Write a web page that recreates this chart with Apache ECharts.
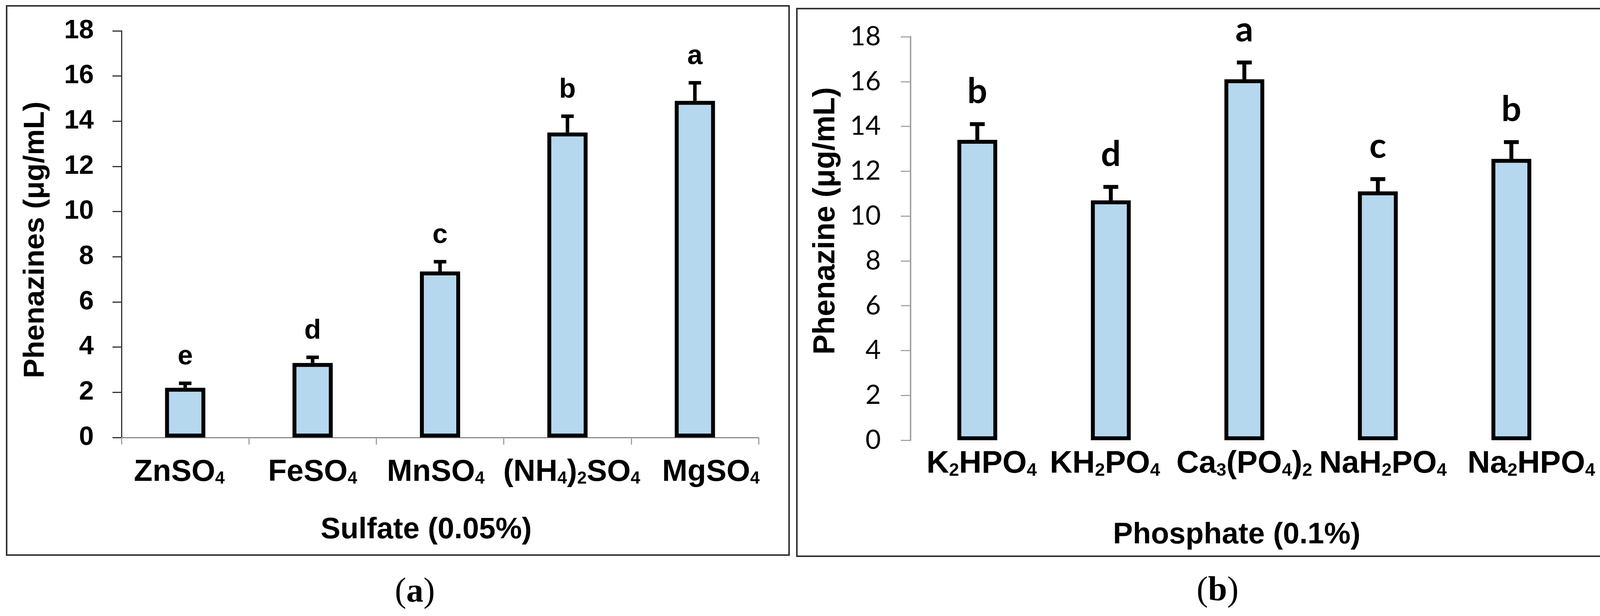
<!DOCTYPE html>
<html><head><meta charset="utf-8">
<script src="https://cdn.jsdelivr.net/npm/echarts@6/dist/echarts.min.js"></script>
<style>html,body{margin:0;padding:0;background:#fff}#c{width:4125px;height:1577px}</style>
</head><body><div id="c"></div>
<script>
// ---------- data ----------
const sulfateCategories = ['ZnSO₄', 'FeSO₄', 'MnSO₄', '(NH₄)₂SO₄', 'MgSO₄'];
const sulfateMeans = [2.2, 3.3, 7.35, 13.5, 14.9];
const sulfateErrors = [0.2, 0.25, 0.43, 0.72, 0.8];
const sulfateLetters = ['e', 'd', 'c', 'b', 'a'];

const phosphateCategories = ['K₂HPO₄', 'KH₂PO₄', 'Ca₃(PO₄)₂', 'NaH₂PO₄', 'Na₂HPO₄'];
const phosphateMeans = [13.4, 10.7, 16.1, 11.1, 12.55];
const phosphateErrors = [0.7, 0.6, 0.75, 0.55, 0.75];
const phosphateLetters = ['b', 'd', 'a', 'c', 'b'];

const yTickLabels = ['0', '2', '4', '6', '8', '10', '12', '14', '16', '18'];

const leftYName = 'Phenazines (μg/mL)';
const leftXName = 'Sulfate (0.05%)';
const rightYName = 'Phenazine (μg/mL)';
const rightXName = 'Phosphate (0.1%)';
const panelLabels = ['a', 'b'];

// ---------- styling helpers ----------
const SUBS = '₀₁₂₃₄₅₆₇₈₉';
function chem(s) {
  let out = '', buf = '', mode = null;
  for (const ch of s) {
    const k = SUBS.indexOf(ch);
    const m = k >= 0 ? 's' : 'm';
    const c = k >= 0 ? String(k) : ch;
    if (m !== mode) { if (buf) out += '{' + mode + '|' + buf + '}'; buf = ''; mode = m; }
    buf += c;
  }
  if (buf) out += '{' + mode + '|' + buf + '}';
  return out;
}
const ARIAL = "'Liberation Sans', Arial, sans-serif";
const LATO = "Lato, 'Liberation Sans', sans-serif";

// horizontal nudges of the category labels (style only, px)
const leftLabelNudge = [-15, 0, -11, 11, 41];
const rightLabelNudge = [11, -15, 0, 13, 51];
function catData(cats, nudges) {
  return cats.map((c, i) => {
    const d = nudges[i];
    return { value: c, textStyle: { padding: d >= 0 ? [0, 0, 0, 2 * d] : [0, -2 * d, 0, 0] } };
  });
}

function errRender(letters, cfg) {
  return function (params, api) {
    const i = api.value(0), m = api.value(1), e = api.value(2);
    const p0 = api.coord([i, m]);
    const p1 = api.coord([i, m + e]);
    return {
      type: 'group',
      children: [
        { type: 'line', shape: { x1: p0[0], y1: p0[1], x2: p1[0], y2: p1[1] }, style: { stroke: '#000', lineWidth: cfg.lw } },
        { type: 'line', shape: { x1: p1[0] - cfg.cap / 2, y1: p1[1], x2: p1[0] + cfg.cap / 2, y2: p1[1] }, style: { stroke: '#000', lineWidth: cfg.lw } },
        { type: 'text', style: { x: p1[0], y: p1[1] - cfg.gap, text: letters[params.dataIndex], fill: '#000',
            fontFamily: cfg.font, fontSize: cfg.fs, fontWeight: 'bold', align: 'center', verticalAlign: 'bottom' } }
      ]
    };
  };
}

const chart = echarts.init(document.getElementById('c'), null, { renderer: 'canvas' });
const yMin = Number(yTickLabels[0]), yMax = Number(yTickLabels[yTickLabels.length - 1]);
const yInt = Number(yTickLabels[1]) - Number(yTickLabels[0]);

chart.setOption({
  backgroundColor: '#fff',
  animation: false,
  textStyle: { fontFamily: ARIAL },
  grid: [
    { left: 311, top: 79, width: 1631, height: 1041, containLabel: false, outerBoundsMode: 'none' },
    { left: 2331, top: 94, width: 1709, height: 1033, containLabel: false, outerBoundsMode: 'none' }
  ],
  xAxis: [
    {
      gridIndex: 0, type: 'category', data: catData(sulfateCategories, leftLabelNudge),
      axisLine: { lineStyle: { color: '#8c8c8c', width: 3 } },
      axisTick: { show: true, length: 18, lineStyle: { color: '#a0a0a0', width: 3 } },
      axisLabel: {
        interval: 0, margin: 50, color: '#000', formatter: v => chem(v),
        rich: {
          m: { fontFamily: ARIAL, fontWeight: 'bold', fontSize: 78, lineHeight: 78, color: '#000' },
          s: { fontFamily: ARIAL, fontWeight: 'bold', fontSize: 44, lineHeight: 50, verticalAlign: 'bottom', color: '#000' }
        }
      },
      name: leftXName, nameLocation: 'middle', nameGap: 199,
      nameTextStyle: { fontFamily: ARIAL, fontWeight: 'bold', fontSize: 76, color: '#000', padding: [0, 71, 0, 0] }
    },
    {
      gridIndex: 1, type: 'category', data: catData(phosphateCategories, rightLabelNudge),
      axisLine: { show: false }, axisTick: { show: false },
      axisLabel: {
        interval: 0, margin: 21, color: '#000', formatter: v => chem(v),
        rich: {
          m: { fontFamily: ARIAL, fontWeight: 'bold', fontSize: 80, lineHeight: 80, color: '#000' },
          s: { fontFamily: ARIAL, fontWeight: 'bold', fontSize: 46, lineHeight: 44, verticalAlign: 'bottom', color: '#000' }
        }
      },
      name: rightXName, nameLocation: 'middle', nameGap: 205,
      nameTextStyle: { fontFamily: ARIAL, fontWeight: 'bold', fontSize: 76, color: '#000', padding: [0, 39, 0, 0] }
    }
  ],
  yAxis: [
    {
      gridIndex: 0, type: 'value', min: yMin, max: yMax, interval: yInt,
      splitLine: { show: false },
      axisLine: { show: true, lineStyle: { color: '#333', width: 3 } },
      axisTick: { show: true, length: 23, lineStyle: { color: '#333', width: 3 } },
      axisLabel: { margin: 71, color: '#000', fontFamily: ARIAL, fontWeight: 'bold', fontSize: 68,
        formatter: (v) => yTickLabels[Math.round((v - yMin) / yInt)] },
      name: leftYName, nameLocation: 'middle', nameGap: 182,
      nameTextStyle: { fontFamily: ARIAL, fontWeight: 'bold', fontSize: 75, color: '#000', padding: [0, 29, 0, 0] }
    },
    {
      gridIndex: 1, type: 'value', min: yMin, max: yMax, interval: yInt,
      splitLine: { show: false },
      axisLine: { show: true, lineStyle: { color: '#a6a6a6', width: 4 } },
      axisTick: { show: true, length: 25, lineStyle: { color: '#a6a6a6', width: 3 } },
      axisLabel: { margin: 76, color: '#000', fontFamily: LATO, fontSize: 68,
        formatter: (v) => yTickLabels[Math.round((v - yMin) / yInt)] },
      name: rightYName, nameLocation: 'middle', nameGap: 178,
      nameTextStyle: { fontFamily: ARIAL, fontWeight: 'bold', fontSize: 77, color: '#000', padding: [0, 0, 0, 90] }
    }
  ],
  series: [
    {
      type: 'bar', xAxisIndex: 0, yAxisIndex: 0, data: sulfateMeans, barWidth: 103,
      itemStyle: { color: '#b5d8ef', borderColor: '#000', borderWidth: 10 }, z: 2
    },
    {
      type: 'custom', xAxisIndex: 0, yAxisIndex: 0, z: 3,
      data: sulfateMeans.map((m, i) => [i, m, sulfateErrors[i]]),
      renderItem: errRender(sulfateLetters, { lw: 9, cap: 32, gap: 32, font: ARIAL, fs: 70 })
    },
    {
      type: 'bar', xAxisIndex: 1, yAxisIndex: 1, data: phosphateMeans, barWidth: 102,
      itemStyle: { color: '#b5d8ef', borderColor: '#000', borderWidth: 10 }, z: 2
    },
    {
      type: 'custom', xAxisIndex: 1, yAxisIndex: 1, z: 3,
      data: phosphateMeans.map((m, i) => [i, m, phosphateErrors[i]]),
      renderItem: errRender(phosphateLetters, { lw: 10, cap: 38, gap: 38, font: LATO, fs: 90 })
    }
  ],
  graphic: [
    { type: 'rect', shape: { x: 17, y: 15, width: 2003, height: 1406 }, style: { fill: null, stroke: '#333', lineWidth: 4 }, silent: true },
    { type: 'rect', shape: { x: 2040, y: 22, width: 2071, height: 1402 }, style: { fill: null, stroke: '#333', lineWidth: 4 }, silent: true },
    { type: 'text', x: 1062, y: 1517, style: { text: '{p|(}{l|' + panelLabels[0] + '}{p|)}', align: 'center', verticalAlign: 'middle',
        rich: { p: { fontFamily: "'Liberation Serif', serif", fontSize: 88, fill: '#000' }, l: { fontFamily: "'Liberation Serif', serif", fontSize: 88, fontWeight: 'bold', fill: '#000' } } } },
    { type: 'text', x: 3117, y: 1514, style: { text: '{p|(}{l|' + panelLabels[1] + '}{p|)}', align: 'center', verticalAlign: 'middle',
        rich: { p: { fontFamily: "'Liberation Serif', serif", fontSize: 88, fill: '#000' }, l: { fontFamily: "'Liberation Serif', serif", fontSize: 88, fontWeight: 'bold', fill: '#000' } } } }
  ]
});
</script>
</body></html>
